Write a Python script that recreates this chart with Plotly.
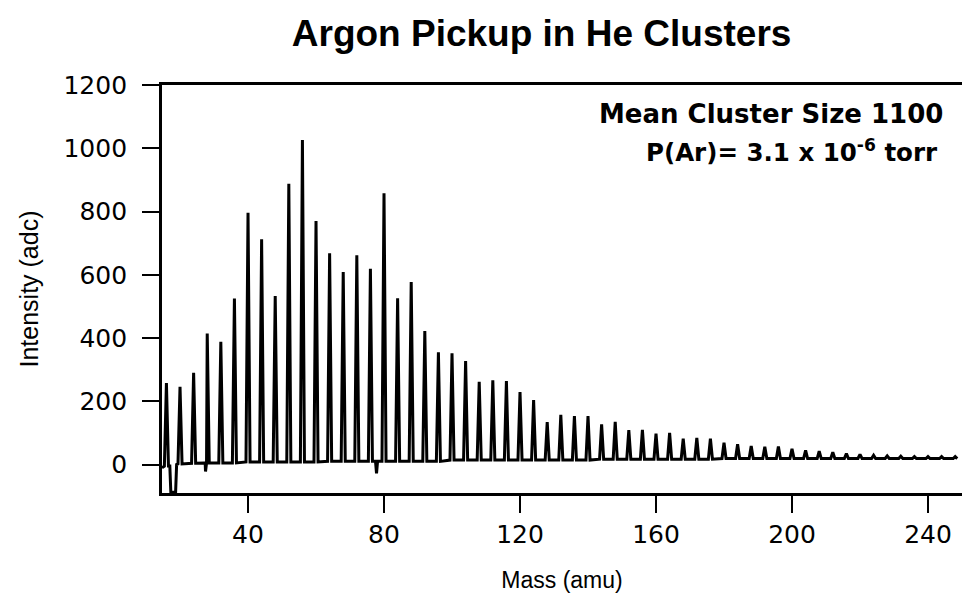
import plotly.graph_objects as go

# ---- data ----
peak_mass = [16, 20, 24, 28, 32, 36, 40, 44, 48, 52, 56, 60, 64, 68, 72, 76, 80, 84, 88, 92,
             96, 100, 104, 108, 112, 116, 120, 124, 128, 132, 136, 140, 144, 148, 152, 156,
             160, 164, 168, 172, 176, 180, 184, 188, 192, 196, 200, 204, 208, 212, 216, 220,
             224, 228, 232, 236, 240, 244, 248]
peak_height = [258, 246, 290, 414, 388, 525, 796, 712, 533, 888, 1026, 770, 668, 609, 662, 619,
               858, 526, 577, 422, 355, 352, 327, 262, 266, 264, 229, 204, 134, 157, 153, 153,
               127, 135, 109, 110, 98, 100, 82, 84, 82, 69, 64, 59, 56, 57, 50, 45, 42, 39, 35,
               32, 29, 27, 26, 25, 25, 25, 25]
baseline = [-5, 2, 4, 5, 5, 5, 8, 8, 8, 8, 8, 8, 10, 10, 10, 10, 10, 10, 10, 10,
            10, 14, 14, 14, 14, 14, 14, 14, 14, 14, 14, 14, 17, 17, 17, 17,
            17, 17, 17, 17, 17, 19, 19, 19, 19, 19, 19, 19, 19, 19, 19, 19,
            19, 19, 19, 19, 19, 19, 19]
# detector glitches (mass, intensity)
dip_mass = [14.7, 17.0, 17.3, 18.7, 19.0, 27.2, 27.5, 27.8, 77.5, 77.8, 78.1]
dip_value = [-10, -5, -88, -88, 0, 5, -22, 5, 10, -28, 10]

x_ticks = [40, 80, 120, 160, 200, 240]
y_ticks = [0, 200, 400, 600, 800, 1000, 1200]

title_text = "Argon Pickup in He Clusters"
note_line1 = "Mean Cluster Size 1100"
note_line2 = "P(Ar)= 3.1 x 10<sup>-6</sup> torr"

# ---- build the spectrum trace from the peak list ----
HALF = 0.6
pts = []
for m, h, b in zip(peak_mass, peak_height, baseline):
    pts += [(m - HALF, b), (m, h), (m + HALF, b)]
pts += list(zip(dip_mass, dip_value))
pts.sort(key=lambda p: p[0])
xs = [p[0] for p in pts]
ys = [p[1] for p in pts]

fig = go.Figure()
fig.add_trace(go.Scatter(x=xs, y=ys, mode="lines",
                         line=dict(color="black", width=3),
                         hoverinfo="skip", showlegend=False))

tick_font = dict(family="DejaVu Sans", size=25, color="black")
fig.update_layout(
    width=962, height=610,
    margin=dict(l=162, r=0, t=85, b=117),
    paper_bgcolor="white", plot_bgcolor="white",
    title=dict(text="<b>" + title_text + "</b>", x=0.563, xanchor="center",
               y=1 - 33 / 610, yanchor="middle", yref="container",
               font=dict(family="Liberation Sans", size=37, color="black")),
    xaxis=dict(range=[14.7, 250.0], tickvals=x_ticks, ticks="outside", ticklen=17,
               tickwidth=2, tickcolor="black", showline=True, linewidth=2.8,
               linecolor="black", mirror=True, showgrid=False, zeroline=False,
               tickfont=tick_font,
               title=dict(text="Mass (amu)", standoff=24,
                          font=dict(family="Liberation Sans", size=23, color="black"))),
    yaxis=dict(range=[-90, 1200], tickvals=y_ticks, ticks="outside", ticklen=17,
               tickwidth=2, tickcolor="black", showline=True, linewidth=2.8,
               linecolor="black", mirror=False, showgrid=False, zeroline=False,
               tickfont=tick_font, ticklabelstandoff=10,
               title=dict(text="Intensity (adc)", standoff=18,
                          font=dict(family="Liberation Sans", size=25, color="black"))),
    annotations=[
        dict(text="<b>" + note_line1 + "</b>", xref="paper", yref="paper",
             x=0.761, y=0.93, xanchor="center", yanchor="middle", showarrow=False,
             font=dict(family="DejaVu Sans", size=26, color="black")),
        dict(text="<b>" + note_line2 + "</b>", xref="paper", yref="paper",
             x=0.788, y=0.838, xanchor="center", yanchor="middle", showarrow=False,
             font=dict(family="DejaVu Sans", size=24.5, color="black")),
    ],
)

fig.write_html("out.html", config={"displayModeBar": False},
               post_script="document.body.style.margin='0';")
